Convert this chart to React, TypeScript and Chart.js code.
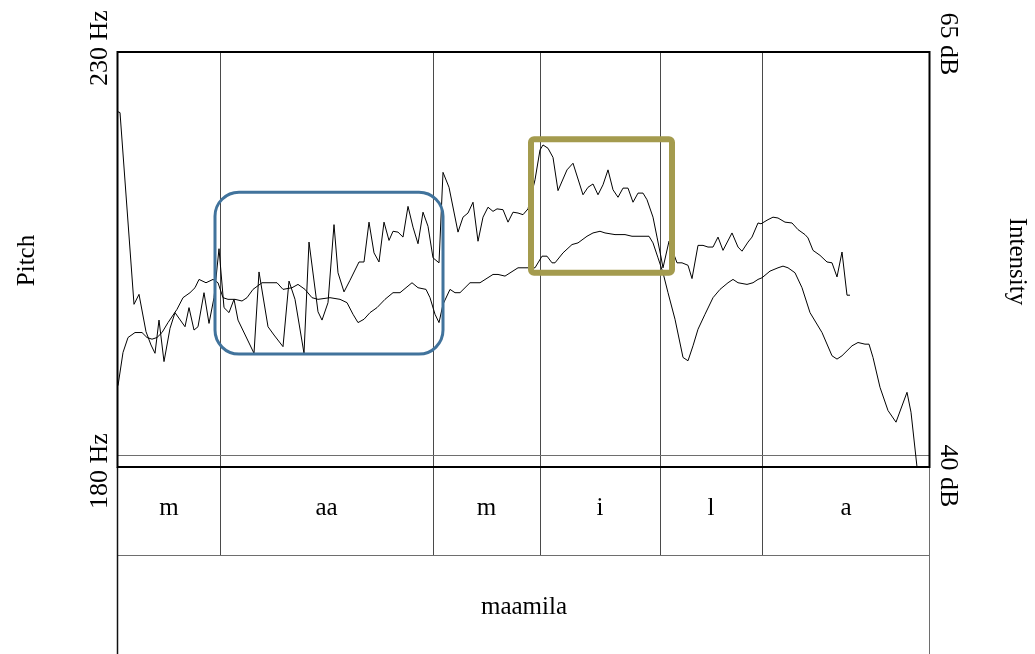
import React, { useEffect, useRef } from "react";
import { Chart, registerables } from "chart.js";

Chart.register(...registerables);

// ---- data ----
const timeRange: [number, number] = [0, 0.812]; // s
const pitchRange: [number, number] = [180, 230]; // Hz
const intensityRange: [number, number] = [40, 65]; // dB
const pitchTitle = "Pitch";
const intensityTitle = "Intensity";
const pitchTickLabels = ["230 Hz", "180 Hz"];
const intensityTickLabels = ["65 dB", "40 dB"];

const segmentBounds = [0, 0.102, 0.315, 0.422, 0.542, 0.644, 0.812];
const segmentLabels = ["m", "aa", "m", "i", "l", "a"];
const wordLabel = "maamila";
const floorLineDb = 40.7;

// [t0, t1, hzLow, hzHigh]
const highlightRanges: [number, number, number, number][] = [
  [0.097, 0.325, 193.6, 213.1],
  [0.413, 0.554, 203.4, 219.5],
];

const pitchTrack: [number, number][] = [
  [0.000, 222.8], [0.002, 222.7], [0.016, 199.6], [0.021, 200.8], [0.028, 196.3], [0.033, 194.7],
  [0.037, 193.7], [0.041, 197.7], [0.046, 192.7], [0.052, 196.7], [0.057, 198.6], [0.067, 196.9],
  [0.071, 199.2], [0.076, 196.5], [0.080, 196.9], [0.086, 201.0], [0.091, 197.3], [0.096, 200.4],
  [0.101, 206.3], [0.106, 199.2], [0.111, 198.6], [0.116, 200.2], [0.120, 197.7], [0.136, 193.7],
  [0.141, 203.5], [0.150, 196.9], [0.156, 195.9], [0.165, 194.5], [0.171, 202.4], [0.177, 200.2],
  [0.186, 193.7], [0.191, 207.1], [0.200, 198.7], [0.204, 197.7], [0.210, 199.8], [0.216, 209.2],
  [0.220, 203.4], [0.226, 201.1], [0.232, 202.5], [0.241, 204.7], [0.246, 204.7], [0.251, 209.5],
  [0.256, 205.8], [0.261, 204.7], [0.266, 209.5], [0.271, 207.3], [0.275, 208.4], [0.280, 208.3],
  [0.285, 207.7], [0.290, 211.4], [0.295, 208.9], [0.300, 206.9], [0.305, 210.7], [0.310, 209.0],
  [0.315, 205.2], [0.321, 204.6], [0.325, 215.5], [0.331, 213.7], [0.340, 208.3], [0.345, 210.1],
  [0.350, 210.6], [0.355, 211.9], [0.360, 207.2], [0.365, 210.1], [0.370, 211.3], [0.375, 210.8],
  [0.379, 211.1], [0.385, 211.0], [0.390, 209.5], [0.395, 210.7], [0.400, 210.6], [0.405, 210.4],
  [0.410, 211.1], [0.417, 214.6], [0.422, 218.2], [0.425, 218.8], [0.430, 218.4], [0.435, 217.3],
  [0.440, 213.3], [0.449, 215.8], [0.455, 216.6], [0.465, 212.8], [0.470, 213.7], [0.475, 214.1],
  [0.480, 212.8], [0.485, 214.0], [0.490, 215.8], [0.495, 213.4], [0.500, 212.5], [0.505, 213.6],
  [0.510, 213.6], [0.515, 211.9], [0.520, 213.0], [0.525, 213.0], [0.529, 212.2], [0.535, 210.1],
  [0.539, 207.7], [0.543, 205.3], [0.545, 204.0], [0.551, 207.2], [0.559, 204.6], [0.564, 204.6],
  [0.570, 204.3], [0.574, 202.7], [0.580, 206.7], [0.585, 206.7], [0.590, 206.5], [0.595, 206.5],
  [0.600, 207.7], [0.605, 206.1], [0.614, 208.2], [0.620, 206.5], [0.624, 206.0], [0.630, 207.1],
  [0.634, 207.7], [0.640, 209.4], [0.643, 209.3], [0.650, 209.8], [0.655, 210.1], [0.660, 210.0],
  [0.667, 209.5], [0.674, 209.4], [0.680, 208.6], [0.687, 208.0], [0.690, 207.6], [0.695, 206.1],
  [0.702, 205.5], [0.709, 204.7], [0.714, 204.6], [0.719, 202.9], [0.724, 205.9], [0.729, 200.7],
  [0.732, 200.7],
];

const intensityTrack: [number, number][] = [
  [0.000, 44.9], [0.005, 46.9], [0.010, 47.8], [0.017, 48.1], [0.024, 48.1], [0.029, 47.8],
  [0.034, 47.7], [0.039, 47.8], [0.044, 48.1], [0.050, 48.7], [0.059, 49.5], [0.065, 50.2],
  [0.072, 50.5], [0.077, 50.8], [0.081, 51.3], [0.088, 51.1], [0.095, 51.3], [0.100, 51.1],
  [0.105, 50.2], [0.110, 50.1], [0.117, 50.1], [0.124, 50.0], [0.129, 50.2], [0.135, 50.7],
  [0.144, 51.1], [0.152, 51.1], [0.159, 51.1], [0.165, 50.7], [0.174, 50.8], [0.180, 51.0],
  [0.187, 50.7], [0.194, 50.2], [0.200, 50.1], [0.212, 50.2], [0.222, 50.1], [0.229, 49.9],
  [0.235, 49.2], [0.240, 48.7], [0.246, 48.9], [0.252, 49.3], [0.259, 49.6], [0.267, 50.1],
  [0.275, 50.5], [0.282, 50.5], [0.294, 51.1], [0.300, 50.8], [0.308, 50.7], [0.312, 50.2],
  [0.317, 49.2], [0.321, 48.7], [0.325, 49.8], [0.332, 50.7], [0.337, 50.5], [0.342, 50.5],
  [0.352, 51.1], [0.362, 51.1], [0.375, 51.6], [0.380, 51.6], [0.387, 51.5], [0.400, 52.0],
  [0.407, 52.0], [0.412, 52.0], [0.417, 52.0], [0.424, 52.7], [0.429, 52.7], [0.434, 52.3],
  [0.437, 52.3], [0.445, 52.9], [0.454, 53.4], [0.460, 53.5], [0.469, 53.9], [0.475, 54.1],
  [0.482, 54.2], [0.487, 54.1], [0.497, 54.0], [0.507, 54.0], [0.514, 53.9], [0.524, 53.9],
  [0.531, 53.9], [0.535, 53.5], [0.540, 52.6], [0.545, 51.7], [0.550, 50.5], [0.557, 48.9],
  [0.565, 46.6], [0.570, 46.4], [0.575, 47.3], [0.580, 48.3], [0.587, 49.2], [0.595, 50.2],
  [0.602, 50.7], [0.610, 51.1], [0.615, 51.3], [0.620, 51.1], [0.629, 51.0], [0.635, 51.1],
  [0.640, 51.3], [0.644, 51.4], [0.652, 51.8], [0.660, 52.0], [0.665, 52.1], [0.670, 52.0],
  [0.677, 51.7], [0.684, 50.8], [0.692, 49.3], [0.704, 48.1], [0.714, 46.7], [0.719, 46.5],
  [0.724, 46.7], [0.734, 47.3], [0.740, 47.5], [0.747, 47.4], [0.751, 47.4], [0.755, 46.6],
  [0.762, 44.8], [0.770, 43.4], [0.778, 42.7], [0.789, 44.5], [0.793, 43.3], [0.799, 40.0],
  [0.800, 40.0],
];

// ---- drawing helpers ----
const SERIF = '"Liberation Serif", "Times New Roman", serif';
const TIER1_HEIGHT = 88;

function hline(ctx: CanvasRenderingContext2D, x0: number, x1: number, y: number) {
  ctx.beginPath();
  ctx.moveTo(x0, y);
  ctx.lineTo(x1, y);
  ctx.stroke();
}
function vline(ctx: CanvasRenderingContext2D, x: number, y0: number, y1: number) {
  ctx.beginPath();
  ctx.moveTo(x, y0);
  ctx.lineTo(x, y1);
  ctx.stroke();
}
function rotatedText(ctx: CanvasRenderingContext2D, text: string, cx: number, cy: number, angle: number) {
  ctx.save();
  ctx.translate(cx, cy);
  ctx.rotate(angle);
  ctx.textAlign = "center";
  ctx.textBaseline = "middle";
  ctx.fillText(text, 0, 0);
  ctx.restore();
}

const praatPlugin = {
  id: "praatDecor",
  beforeDatasetsDraw(chart: any) {
    const { ctx, chartArea: a, scales } = chart;
    const xs = scales.x;
    const yI = scales.yInt;
    const tier1Bottom = a.bottom + TIER1_HEIGHT;
    ctx.save();
    ctx.lineWidth = 1;
    ctx.strokeStyle = "#4a4a4a";
    segmentBounds.slice(1, -1).forEach((t) => {
      const px = Math.round(xs.getPixelForValue(t)) + 0.5;
      vline(ctx, px, a.top, tier1Bottom);
    });
    ctx.strokeStyle = "#6e6e6e";
    const fy = Math.round(yI.getPixelForValue(floorLineDb)) + 0.5;
    hline(ctx, a.left, a.right, fy);
    ctx.restore();
  },
  afterDatasetsDraw(chart: any) {
    const { ctx, scales } = chart;
    const xs = scales.x;
    const yP = scales.yPitch;
    const styles = [
      { color: "#41739c", width: 3, radius: 24 },
      { color: "#a49b4e", width: 6, radius: 3 },
    ];
    ctx.save();
    highlightRanges.forEach(([t0, t1, lo, hi], i) => {
      const s = styles[i];
      const x0 = xs.getPixelForValue(t0);
      const x1 = xs.getPixelForValue(t1);
      const y0 = yP.getPixelForValue(hi);
      const y1 = yP.getPixelForValue(lo);
      ctx.strokeStyle = s.color;
      ctx.lineWidth = s.width;
      ctx.lineJoin = "round";
      ctx.beginPath();
      (ctx as any).roundRect(x0, y0, x1 - x0, y1 - y0, s.radius);
      ctx.stroke();
    });
    ctx.restore();
  },
  afterDraw(chart: any) {
    const { ctx, chartArea: a, scales, width, height } = chart;
    const xs = scales.x;
    const tier1Bottom = a.bottom + TIER1_HEIGHT;
    ctx.save();
    // tier lines
    ctx.lineWidth = 1;
    ctx.strokeStyle = "#6e6e6e";
    hline(ctx, a.left, a.right, tier1Bottom + 0.5);
    vline(ctx, Math.round(a.right) - 0.5, a.bottom, height);
    ctx.strokeStyle = "#111";
    ctx.lineWidth = 1.5;
    vline(ctx, a.left - 0.5, a.bottom, height);
    // frame
    ctx.lineWidth = 2;
    ctx.strokeStyle = "#000";
    ctx.strokeRect(a.left - 0.5, a.top, a.right - a.left, a.bottom - a.top);

    // tier texts
    ctx.fillStyle = "#000";
    ctx.font = `25px ${SERIF}`;
    ctx.textAlign = "center";
    ctx.textBaseline = "alphabetic";
    segmentLabels.forEach((lab, i) => {
      const cx = (xs.getPixelForValue(segmentBounds[i]) + xs.getPixelForValue(segmentBounds[i + 1])) / 2;
      ctx.fillText(lab, cx, a.bottom + 48);
    });
    ctx.fillText(wordLabel, (a.left + a.right) / 2, tier1Bottom + 59);

    // axis labels
    ctx.font = `26px ${SERIF}`;
    rotatedText(ctx, pitchTickLabels[0], a.left - 18, a.top - 4, -Math.PI / 2);
    rotatedText(ctx, pitchTickLabels[1], a.left - 18, a.bottom + 4, -Math.PI / 2);
    rotatedText(ctx, intensityTickLabels[0], a.right + 18, a.top - 8, Math.PI / 2);
    rotatedText(ctx, intensityTickLabels[1], a.right + 18, a.bottom + 9, Math.PI / 2);
    ctx.font = `25px ${SERIF}`;
    rotatedText(ctx, pitchTitle, 27, (a.top + a.bottom) / 2 + 1, -Math.PI / 2);
    rotatedText(ctx, intensityTitle, width - 18, (a.top + a.bottom) / 2 + 2, Math.PI / 2);
    ctx.restore();
  },
};

export default function App() {
  const canvasRef = useRef<HTMLCanvasElement | null>(null);

  useEffect(() => {
    if (!canvasRef.current) return;
    const chart = new Chart(canvasRef.current, {
      type: "line",
      data: {
        datasets: [
          {
            label: "Pitch",
            data: pitchTrack.map(([t, v]) => ({ x: t, y: v })),
            yAxisID: "yPitch",
            borderColor: "#000",
            borderWidth: 1,
            pointRadius: 0,
            tension: 0,
            fill: false,
          },
          {
            label: "Intensity",
            data: intensityTrack.map(([t, v]) => ({ x: t, y: v })),
            yAxisID: "yInt",
            borderColor: "#000",
            borderWidth: 1,
            pointRadius: 0,
            tension: 0,
            fill: false,
          },
        ],
      },
      options: {
        animation: false,
        responsive: true,
        maintainAspectRatio: false,
        layout: { padding: { left: 118, right: 105, top: 52, bottom: 187 } },
        plugins: { legend: { display: false }, tooltip: { enabled: false }, title: { display: false } },
        events: [],
        scales: {
          x: { type: "linear", min: timeRange[0], max: timeRange[1], display: false },
          yPitch: { type: "linear", position: "left", min: pitchRange[0], max: pitchRange[1], display: false },
          yInt: { type: "linear", position: "right", min: intensityRange[0], max: intensityRange[1], display: false },
        },
      },
      plugins: [praatPlugin],
    });
    return () => chart.destroy();
  }, []);

  return (
    <div style={{ position: "absolute", left: 0, top: 0, width: 1035, height: 654, background: "#fff" }}>
      <canvas ref={canvasRef} />
    </div>
  );
}
